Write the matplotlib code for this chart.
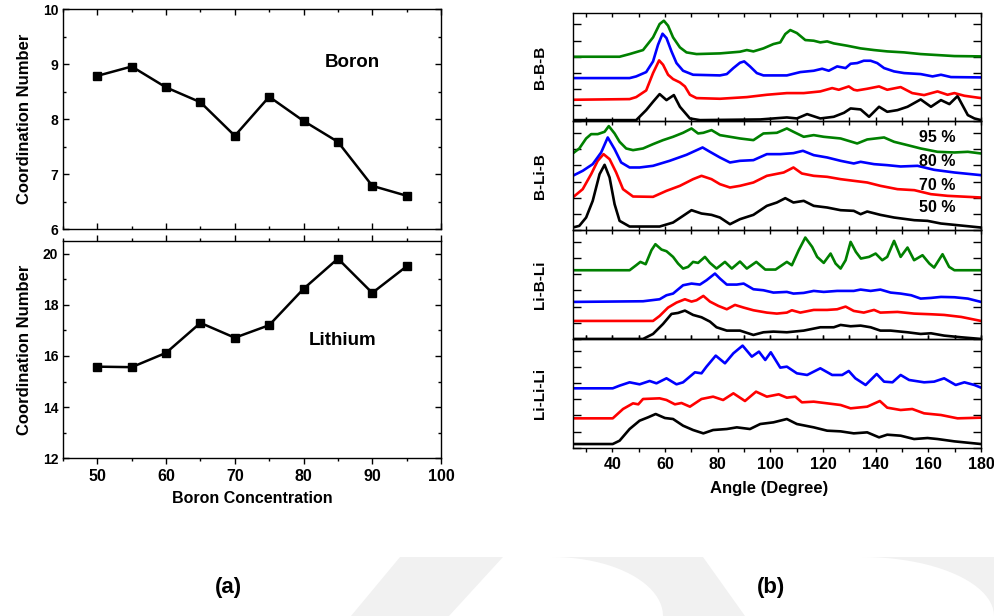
import matplotlib
matplotlib.use("Agg")
import matplotlib.pyplot as plt
from matplotlib.ticker import MultipleLocator, NullFormatter
import numpy as np

plt.rcParams['font.family'] = ['Liberation Sans', 'DejaVu Sans']
plt.rcParams['font.weight'] = 'bold'

# ---- (a) coordination numbers vs boron concentration ----
conc = [50, 55, 60, 65, 70, 75, 80, 85, 90, 95]
cn_boron = [8.79, 8.96, 8.58, 8.31, 7.70, 8.41, 7.97, 7.59, 6.79, 6.61]
cn_lithium = [15.58, 15.56, 16.12, 17.29, 16.71, 17.20, 18.62, 19.80, 18.46, 19.50]

# ---- (b) bond-angle distributions (arbitrary units) ----
# B-B-B
bbb_95_x = [25, 42.8, 46.6, 51.7, 55.5, 58.0, 59.6, 61.2, 63.1, 65.7, 68.2, 72, 80.9, 88.5, 91.1, 93.6, 97.4, 101.2, 103.8, 105.7, 107.6, 110.1, 113.3, 116.5, 119, 121.6, 124.1, 129.2, 134.3, 139.4, 144.4, 150.8, 157.1, 163.5, 169.9, 180]
bbb_95_y = [0, 0, 8, 20, 58, 98, 108, 93, 58, 28, 13, 8, 10, 15, 20, 16, 25, 38, 43, 68, 80, 71, 50, 48, 43, 46, 40, 33, 25, 20, 16, 13, 8, 5, 2, 1]
bbb_80_x = [25, 46.6, 49.1, 52.9, 55.5, 57.4, 59.1, 60.6, 62.5, 64.4, 66.9, 70.7, 80.9, 83.5, 86, 88.5, 90.1, 92.3, 94.9, 97.4, 106.3, 111.4, 116.5, 119.7, 122.2, 125.4, 128.6, 130.5, 133, 135.5, 138.1, 140.6, 143.2, 147, 150.8, 157.1, 161.6, 164.8, 168.6, 180]
bbb_80_y = [0, 0, 5, 18, 50, 100, 133, 120, 80, 45, 22, 10, 8, 12, 30, 46, 50, 35, 15, 8, 8, 18, 22, 28, 22, 35, 30, 43, 45, 52, 52, 45, 30, 20, 15, 12, 5, 10, 3, 2]
bbb_70_x = [25, 46.6, 49.1, 52.9, 55.5, 57.8, 59.3, 61.2, 63.1, 65.7, 67.6, 69.5, 72, 80.9, 91.1, 98.7, 106.3, 112.7, 119, 123.5, 126, 129.8, 131.7, 133, 136.8, 141.3, 144.4, 149.5, 153.9, 158.4, 163.5, 167.3, 169.9, 173.7, 180]
bbb_70_y = [0, 2, 8, 28, 80, 118, 105, 75, 62, 52, 40, 15, 5, 3, 8, 15, 20, 20, 25, 35, 30, 40, 30, 28, 33, 40, 30, 38, 20, 14, 25, 15, 20, 12, 5]
bbb_50_x = [25, 49.1, 52.9, 55.5, 58, 60.6, 63.4, 65.7, 69.5, 73.3, 96.2, 106.3, 110.1, 114, 119, 124.1, 128, 130.5, 134.3, 137.5, 141.3, 144.4, 148.3, 152.1, 157.1, 161, 164.8, 168, 171.1, 175, 177.5, 180]
bbb_50_y = [0, 0, 30, 55, 78, 60, 75, 40, 5, 0, 2, 8, 5, 18, 5, 10, 22, 35, 32, 10, 40, 25, 30, 40, 62, 40, 60, 48, 72, 15, 5, 0]

# B-Li-B
blb_95_x = [25, 27.5, 30.1, 32, 34.5, 37.1, 38.7, 40.9, 42.8, 45.3, 47.9, 51.7, 55.5, 59.3, 63.1, 66.9, 70.1, 72.6, 74.6, 77.7, 80.9, 84.7, 88.5, 93.6, 97.4, 102.5, 106.3, 108.8, 112.7, 116.5, 120.3, 126.7, 133, 136.8, 143.2, 147, 152.1, 157.1, 163.5, 169.9, 175, 180]
blb_95_y = [0, 15, 45, 58, 58, 65, 82, 60, 35, 15, 10, 15, 28, 40, 50, 62, 75, 60, 62, 70, 55, 50, 45, 40, 60, 62, 75, 65, 50, 55, 50, 45, 30, 42, 48, 35, 25, 15, 5, 3, 5, 0]
blb_80_x = [25, 28.8, 32.6, 35.8, 38.3, 40.9, 43.4, 46.6, 50.4, 55.5, 61.8, 68.2, 74.3, 77.1, 80.9, 84.7, 88.5, 93.6, 98.7, 103.8, 108.8, 112.4, 116.5, 121.6, 126.7, 131.7, 134.3, 139.4, 144.4, 149.5, 155.9, 162.2, 169.9, 180]
blb_80_y = [0, 15, 35, 70, 115, 80, 40, 25, 25, 30, 45, 63, 85, 72, 55, 40, 45, 47, 65, 65, 68, 75, 62, 55, 45, 37, 42, 35, 32, 28, 30, 18, 10, 2]
blb_70_x = [25, 28.8, 32, 34.5, 36.7, 39, 41.5, 44.1, 47.9, 55.5, 60.6, 65.7, 70.7, 73.9, 77.7, 80.9, 84.7, 88.5, 93.6, 98.7, 105.1, 108.8, 112, 116.5, 121.6, 126.7, 131.7, 136.8, 141.8, 148.3, 154.7, 161, 167.3, 180]
blb_70_y = [0, 25, 70, 110, 130, 115, 75, 25, 3, 2, 20, 35, 55, 65, 55, 40, 30, 35, 45, 65, 75, 90, 72, 65, 62, 55, 50, 45, 35, 25, 22, 10, 5, 0]
blb_50_x = [25, 27.5, 30.1, 32.6, 35.2, 37.1, 39, 40.9, 42.8, 46.6, 58, 63.1, 66.9, 70.1, 73.9, 77.7, 80.9, 84.7, 88.5, 93.6, 98.7, 102.5, 105.7, 108.8, 112.7, 116.5, 121.6, 126.7, 131.7, 134.3, 136.8, 141.8, 147, 154.7, 159.7, 164.8, 169.9, 180]
blb_50_y = [0, 5, 30, 80, 160, 188, 150, 70, 20, 3, 3, 15, 35, 52, 42, 38, 30, 10, 25, 38, 65, 75, 88, 75, 80, 65, 60, 52, 50, 40, 48, 38, 30, 22, 20, 12, 8, 0]

# Li-B-Li
lbl_95_x = [25, 46.6, 49.1, 50.7, 52.7, 54.9, 56.4, 58.7, 60.6, 63.1, 65, 66.9, 68.8, 70.7, 72.6, 75.2, 77.1, 79.6, 82.8, 85.4, 88.5, 91.1, 94.7, 98.1, 102, 106.3, 108.2, 110.8, 113.3, 115.9, 117.8, 120.3, 122.9, 124.8, 126.7, 128.6, 130.5, 132.5, 134.4, 137.5, 140, 142.5, 144.4, 147, 149.5, 152.1, 154.6, 157.8, 160.4, 162.2, 165.4, 167.9, 169.9, 180]
lbl_95_y = [0, 0, 15, 25, 18, 60, 78, 62, 57, 40, 20, 5, 10, 25, 22, 40, 22, 5, 25, 5, 26, 5, 25, 2, 2, 25, 15, 60, 98, 70, 40, 22, 50, 20, 5, 30, 85, 55, 35, 40, 50, 30, 40, 88, 40, 68, 30, 45, 20, 8, 48, 10, 0, 0]
lbl_80_x = [25, 51.7, 58, 60.6, 63.1, 66.9, 70.1, 73.3, 75.8, 79, 80.9, 83.5, 87.3, 89.9, 93.6, 97.4, 101.2, 106.3, 108.8, 112.7, 116.5, 120.3, 125.4, 131.7, 134.3, 138.1, 141.8, 145.7, 149.5, 153.5, 157.1, 161, 164.8, 169.9, 175, 180]
lbl_80_y = [0, 2, 8, 20, 25, 50, 55, 52, 65, 85, 70, 52, 52, 55, 38, 35, 28, 30, 25, 27, 33, 30, 33, 33, 37, 33, 37, 28, 25, 20, 10, 12, 15, 14, 10, 0]
lbl_70_x = [25, 55.5, 58, 61.2, 64.4, 67.6, 70.1, 72, 74.6, 77.1, 80.3, 83.5, 86.6, 89.9, 93.6, 98.7, 102.5, 106.3, 108.2, 111.4, 116.5, 121.6, 125.4, 128.6, 131.7, 135.5, 139.4, 141.8, 148.3, 154.6, 161, 166, 172.5, 180]
lbl_70_y = [0, 0, 15, 40, 55, 65, 58, 62, 75, 58, 45, 35, 48, 40, 32, 25, 22, 25, 32, 25, 33, 33, 35, 43, 30, 25, 33, 25, 27, 22, 20, 18, 12, 0]
lbl_50_x = [25, 51.7, 55.5, 59.3, 62.5, 65, 67.6, 70.7, 73.9, 77.1, 79.6, 83.5, 88.5, 93.6, 97.4, 101.2, 106.3, 112.7, 119, 124.1, 126.7, 130.5, 134.3, 138.1, 141.8, 145.7, 152.1, 157.1, 161, 166, 172.5, 180]
lbl_50_y = [0, 0, 15, 45, 75, 78, 85, 72, 65, 52, 35, 25, 25, 12, 20, 22, 20, 25, 35, 35, 42, 38, 40, 35, 25, 25, 20, 15, 17, 10, 5, 0]

# Li-Li-Li
lll_80_x = [25, 40.2, 42.8, 46.6, 50.4, 54.2, 56.8, 60.6, 64.4, 66.9, 71.4, 73.9, 75.8, 79.3, 82.8, 86, 89.5, 93, 95.7, 98.1, 100.2, 103.8, 106.3, 110.1, 114, 119, 123.5, 127.3, 129.8, 132.3, 136.2, 140.4, 143.2, 146.4, 149.5, 152.7, 158.4, 162.2, 166, 170.4, 173.7, 177.5, 180]
lll_80_y = [0, 0, 8, 18, 12, 22, 15, 30, 12, 18, 48, 45, 65, 98, 75, 105, 128, 95, 110, 85, 108, 62, 65, 45, 40, 60, 40, 40, 52, 30, 10, 43, 20, 18, 40, 25, 18, 20, 30, 10, 18, 10, 2]
lll_70_x = [25, 40.2, 44.1, 47.9, 49.9, 51.7, 58, 60.6, 63.8, 66.3, 69.5, 73.9, 78.3, 82.1, 86, 90.4, 94.6, 98.7, 103.2, 106.3, 109.5, 112, 116.5, 121.6, 126.7, 130.5, 136.8, 141.6, 144.4, 149.5, 153.9, 158.4, 164.8, 171.1, 180]
lll_70_y = [0, 0, 28, 45, 42, 58, 60, 55, 42, 46, 35, 58, 65, 55, 75, 52, 80, 65, 72, 62, 65, 48, 50, 45, 40, 30, 35, 52, 32, 25, 28, 15, 10, 0, 2]
lll_50_x = [25, 40.2, 42.8, 46.6, 50.4, 53.6, 56.5, 60, 63.1, 66.9, 70.7, 74.6, 78.3, 83.5, 87.3, 92.3, 96.2, 101.2, 106.3, 110.1, 116.5, 121.6, 126.7, 131.7, 136.8, 141.3, 144.4, 149.5, 154.6, 159.7, 163.5, 169.9, 180]
lll_50_y = [0, 0, 10, 45, 70, 80, 90, 78, 75, 55, 42, 32, 42, 45, 50, 45, 60, 65, 75, 60, 50, 40, 38, 32, 35, 20, 28, 25, 15, 18, 15, 8, 0]

panel_names = ['B-B-B', 'B-Li-B', 'Li-B-Li', 'Li-Li-Li']
colors = {'50': 'black', '70': '#ff0000', '80': '#0000ff', '95': '#008000'}

panels = [
    [('50', bbb_50_x, bbb_50_y, 4), ('70', bbb_70_x, bbb_70_y, 65),
     ('80', bbb_80_x, bbb_80_y, 130), ('95', bbb_95_x, bbb_95_y, 194)],
    [('50', blb_50_x, blb_50_y, 8), ('70', blb_70_x, blb_70_y, 98),
     ('80', blb_80_x, blb_80_y, 163), ('95', blb_95_x, blb_95_y, 230)],
    [('50', lbl_50_x, lbl_50_y, 0), ('70', lbl_70_x, lbl_70_y, 54),
     ('80', lbl_80_x, lbl_80_y, 111), ('95', lbl_95_x, lbl_95_y, 206)],
    [('50', lll_50_x, lll_50_y, 11), ('70', lll_70_x, lll_70_y, 88),
     ('80', lll_80_x, lll_80_y, 178)],
]

W, H = 994, 616
fig = plt.figure(figsize=(W / 100, H / 100), dpi=100)
fig.patch.set_facecolor('white')


def fx(px):
    return px / W


def fy(py):
    return 1 - py / H


# faint background emblem behind everything (pixel coordinates)
bg = fig.add_axes([0, 0, 1, 1], zorder=-10)
bg.set_xlim(0, W)
bg.set_ylim(H, 0)
bg.axis('off')
t = np.linspace(0, 1, 24) * np.pi / 2
arc_mid = [(552 + 111 * np.sin(a), 557 + 59 * (1 - np.cos(a))) for a in t]
arc_right = [(862 + 132 * np.sin(a), 557 + 59 * (1 - np.cos(a))) for a in t]
emblem = [
    [(351, 616), (400, 557), (503, 557), (449, 616)],
    arc_mid + [(745, 616), (703, 557)],
    arc_right + [(994, 557)],
]
for verts in emblem:
    bg.add_patch(plt.Polygon(verts, closed=True, facecolor='#f1f1f1',
                             edgecolor='none'))

# ---------- panel (a) ----------
ax1 = fig.add_axes([fx(63), fy(229.3), fx(441 - 63), (229.3 - 9.3) / H])
ax2 = fig.add_axes([fx(63), fy(458.3), fx(441 - 63), (458.3 - 240.7) / H])

ax1.plot(conc, cn_boron, color='black', lw=1.8, marker='s', ms=6)
ax2.plot(conc, cn_lithium, color='black', lw=1.8, marker='s', ms=6)

ax1.set_xlim(45, 100)
ax1.set_ylim(6, 10)
ax2.set_xlim(45, 100)
ax2.set_ylim(12, 20.5)
for ax in (ax1, ax2):
    ax.patch.set_alpha(0)
    ax.xaxis.set_major_locator(MultipleLocator(10))
    ax.xaxis.set_minor_locator(MultipleLocator(5))
    ax.tick_params(which='both', direction='in', top=True, right=True, width=1.0)
    ax.tick_params(which='major', length=4.5)
    ax.tick_params(which='minor', length=2.5)
    ax.tick_params(axis='y', labelsize=10)
    ax.tick_params(axis='x', labelsize=11.5)
    for s in ax.spines.values():
        s.set_linewidth(1.0)
    ax.set_ylabel('Coordination Number', fontsize=12, fontweight='bold', labelpad=8)
ax1.yaxis.set_major_locator(MultipleLocator(1))
ax1.yaxis.set_minor_locator(MultipleLocator(0.5))
ax2.yaxis.set_major_locator(MultipleLocator(2))
ax2.yaxis.set_minor_locator(MultipleLocator(1))
ax1.xaxis.set_major_formatter(NullFormatter())
ax2.tick_params(axis='x', which='both', direction='out')
ax1.text(0.765, 0.76, 'Boron', transform=ax1.transAxes, ha='center', va='center',
         fontsize=13.5, fontweight='bold')
ax2.text(0.74, 0.54, 'Lithium', transform=ax2.transAxes, ha='center', va='center',
         fontsize=13.5, fontweight='bold')
ax2.set_xlabel('Boron Concentration', fontsize=11.5, fontweight='bold', labelpad=5)

# ---------- panel (b) ----------
top_px, bot_px = 12.7, 447.7
ph = (bot_px - top_px) / 4
axes_b = []
for i, (name, curves) in enumerate(zip(panel_names, panels)):
    y0 = top_px + ph * (i + 1)
    ax = fig.add_axes([fx(572.7), fy(y0), fx(981 - 572.7), ph / H])
    ax.patch.set_alpha(0)
    for key, xs, ys, off in curves:
        ax.plot(xs, np.asarray(ys) + off, color=colors[key], lw=1.9,
                solid_joinstyle='round', solid_capstyle='round')
    ax.set_xlim(25, 180)
    ax.set_ylim(0, 326)
    ax.xaxis.set_major_locator(MultipleLocator(20))
    ax.xaxis.set_minor_locator(MultipleLocator(10))
    ax.yaxis.set_major_locator(MultipleLocator(48.5))
    ax.yaxis.set_major_formatter(NullFormatter())
    ax.tick_params(which='both', direction='in', top=True, right=True, width=1.0,
                   labelsize=11.5)
    ax.tick_params(axis='x', which='both', length=3)
    ax.tick_params(axis='y', which='both', length=6)
    for s in ax.spines.values():
        s.set_linewidth(1.0)
    ax.set_ylabel(name, fontsize=11, fontweight='bold')
    ax.yaxis.set_label_coords(-0.062, 0.5)
    if i < 3:
        ax.xaxis.set_major_formatter(NullFormatter())
    axes_b.append(ax)

axes_b[-1].tick_params(axis='x', which='both', direction='out')
axes_b[-1].set_xlabel('Angle (Degree)', fontsize=12, fontweight='bold')
axes_b[-1].xaxis.set_label_coords(0.48, -0.31)

for label, ypx in (('95 %', 137.3), ('80 %', 161.7), ('70 %', 185.0), ('50 %', 208.0)):
    fig.text(fx(937), fy(ypx), label, ha='center', va='center', fontsize=11.5,
             fontweight='bold')

fig.text(fx(228), fy(588), '(a)', ha='center', va='center', fontsize=16, fontweight='bold')
fig.text(fx(771), fy(588), '(b)', ha='center', va='center', fontsize=16, fontweight='bold')

fig.savefig('out.png', dpi=100, facecolor='white')
